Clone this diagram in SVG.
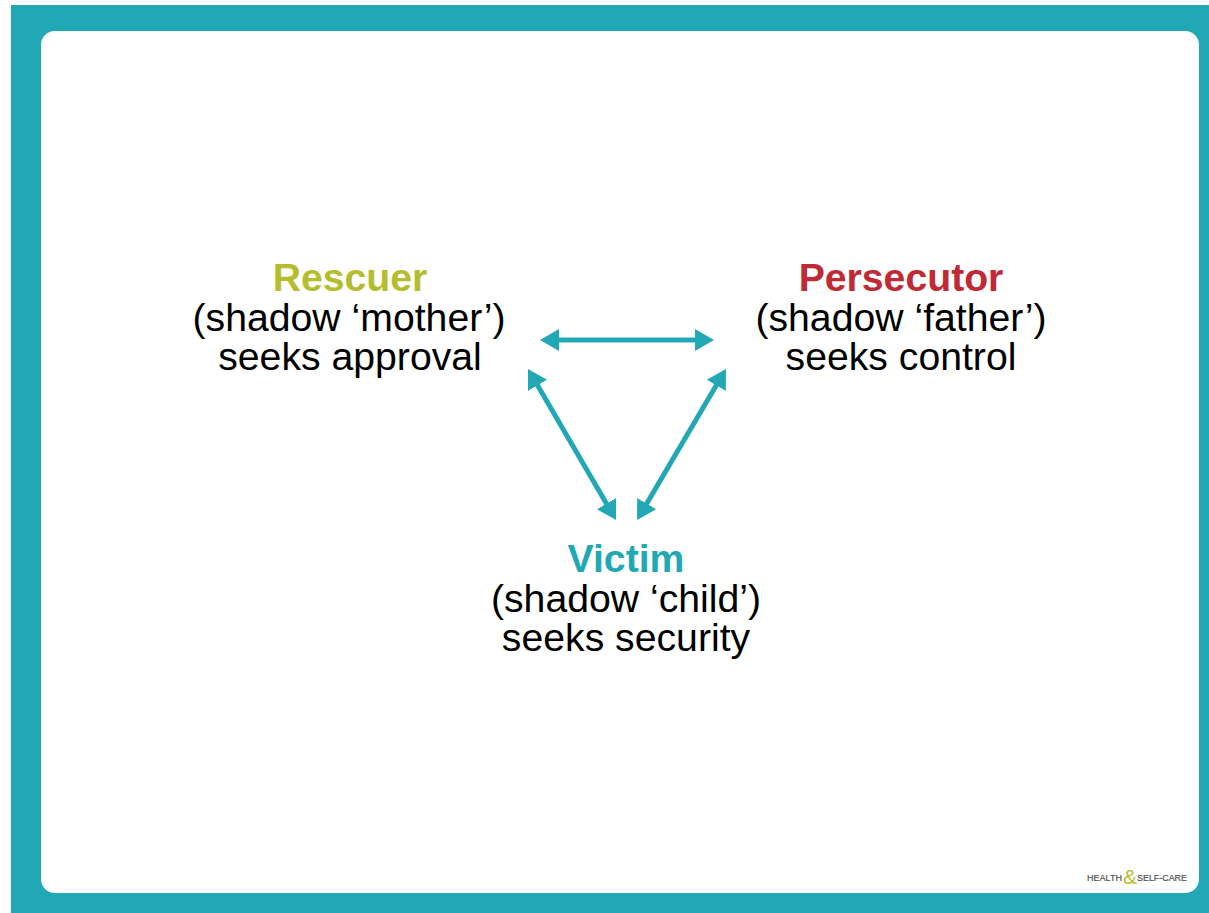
<svg xmlns="http://www.w3.org/2000/svg" width="1209" height="913" viewBox="0 0 1209 913">
<style>
text{font-family:"Liberation Sans",Arial,sans-serif;text-anchor:middle;font-size:39.2px;fill:#000}
.t{font-weight:700}
.c{stroke:#22a8b5;stroke-width:5;fill:none;marker-start:url(#a);marker-end:url(#a)}
.l{font-size:9px;fill:#4a4a4a;text-anchor:start;stroke:#4a4a4a;stroke-width:.15px}
</style>
<defs><marker id="a" markerUnits="userSpaceOnUse" markerWidth="20" markerHeight="26" viewBox="0 0 20 26" refX="9" refY="13" orient="auto-start-reverse"><path d="M0,2 L19,13 L0,24z" fill="#22a8b5"/></marker></defs>
<rect width="1209" height="913" fill="#fff"/>
<rect x="11" y="5" width="1198" height="908" fill="#20a8b4"/>
<rect x="41" y="31" width="1158" height="862" rx="14" fill="#fff"/>
<g id="connectors">
<line class="c" x1="550" y1="340" x2="704" y2="340"/>
<line class="c" x1="533" y1="377.6" x2="611" y2="511.4"/>
<line class="c" x1="720.9" y1="377.6" x2="642.1" y2="511.4"/>
</g>
<g id="rescuer"><text class="t" x="350" y="291" style="fill:#b5bd2e">Rescuer</text><text x="349" y="331">(shadow ‘mother’)</text><text x="350" y="370">seeks approval</text></g>
<g id="persecutor"><text class="t" x="901" y="291" style="fill:#bf2a35">Persecutor</text><text x="901" y="331">(shadow ‘father’)</text><text x="901" y="370">seeks control</text></g>
<g id="victim"><text class="t" x="626" y="572" style="fill:#22a8b5">Victim</text><text x="626" y="612">(shadow ‘child’)</text><text x="626" y="651">seeks security</text></g>
<g id="logo"><text class="l" x="1087" y="881" textLength="35" lengthAdjust="spacingAndGlyphs">HEALTH</text><text x="1130" y="884" style="font-size:21px;fill:#b5bd2e">&amp;</text><text class="l" x="1137" y="881" textLength="50" lengthAdjust="spacingAndGlyphs">SELF-CARE</text></g>
</svg>
